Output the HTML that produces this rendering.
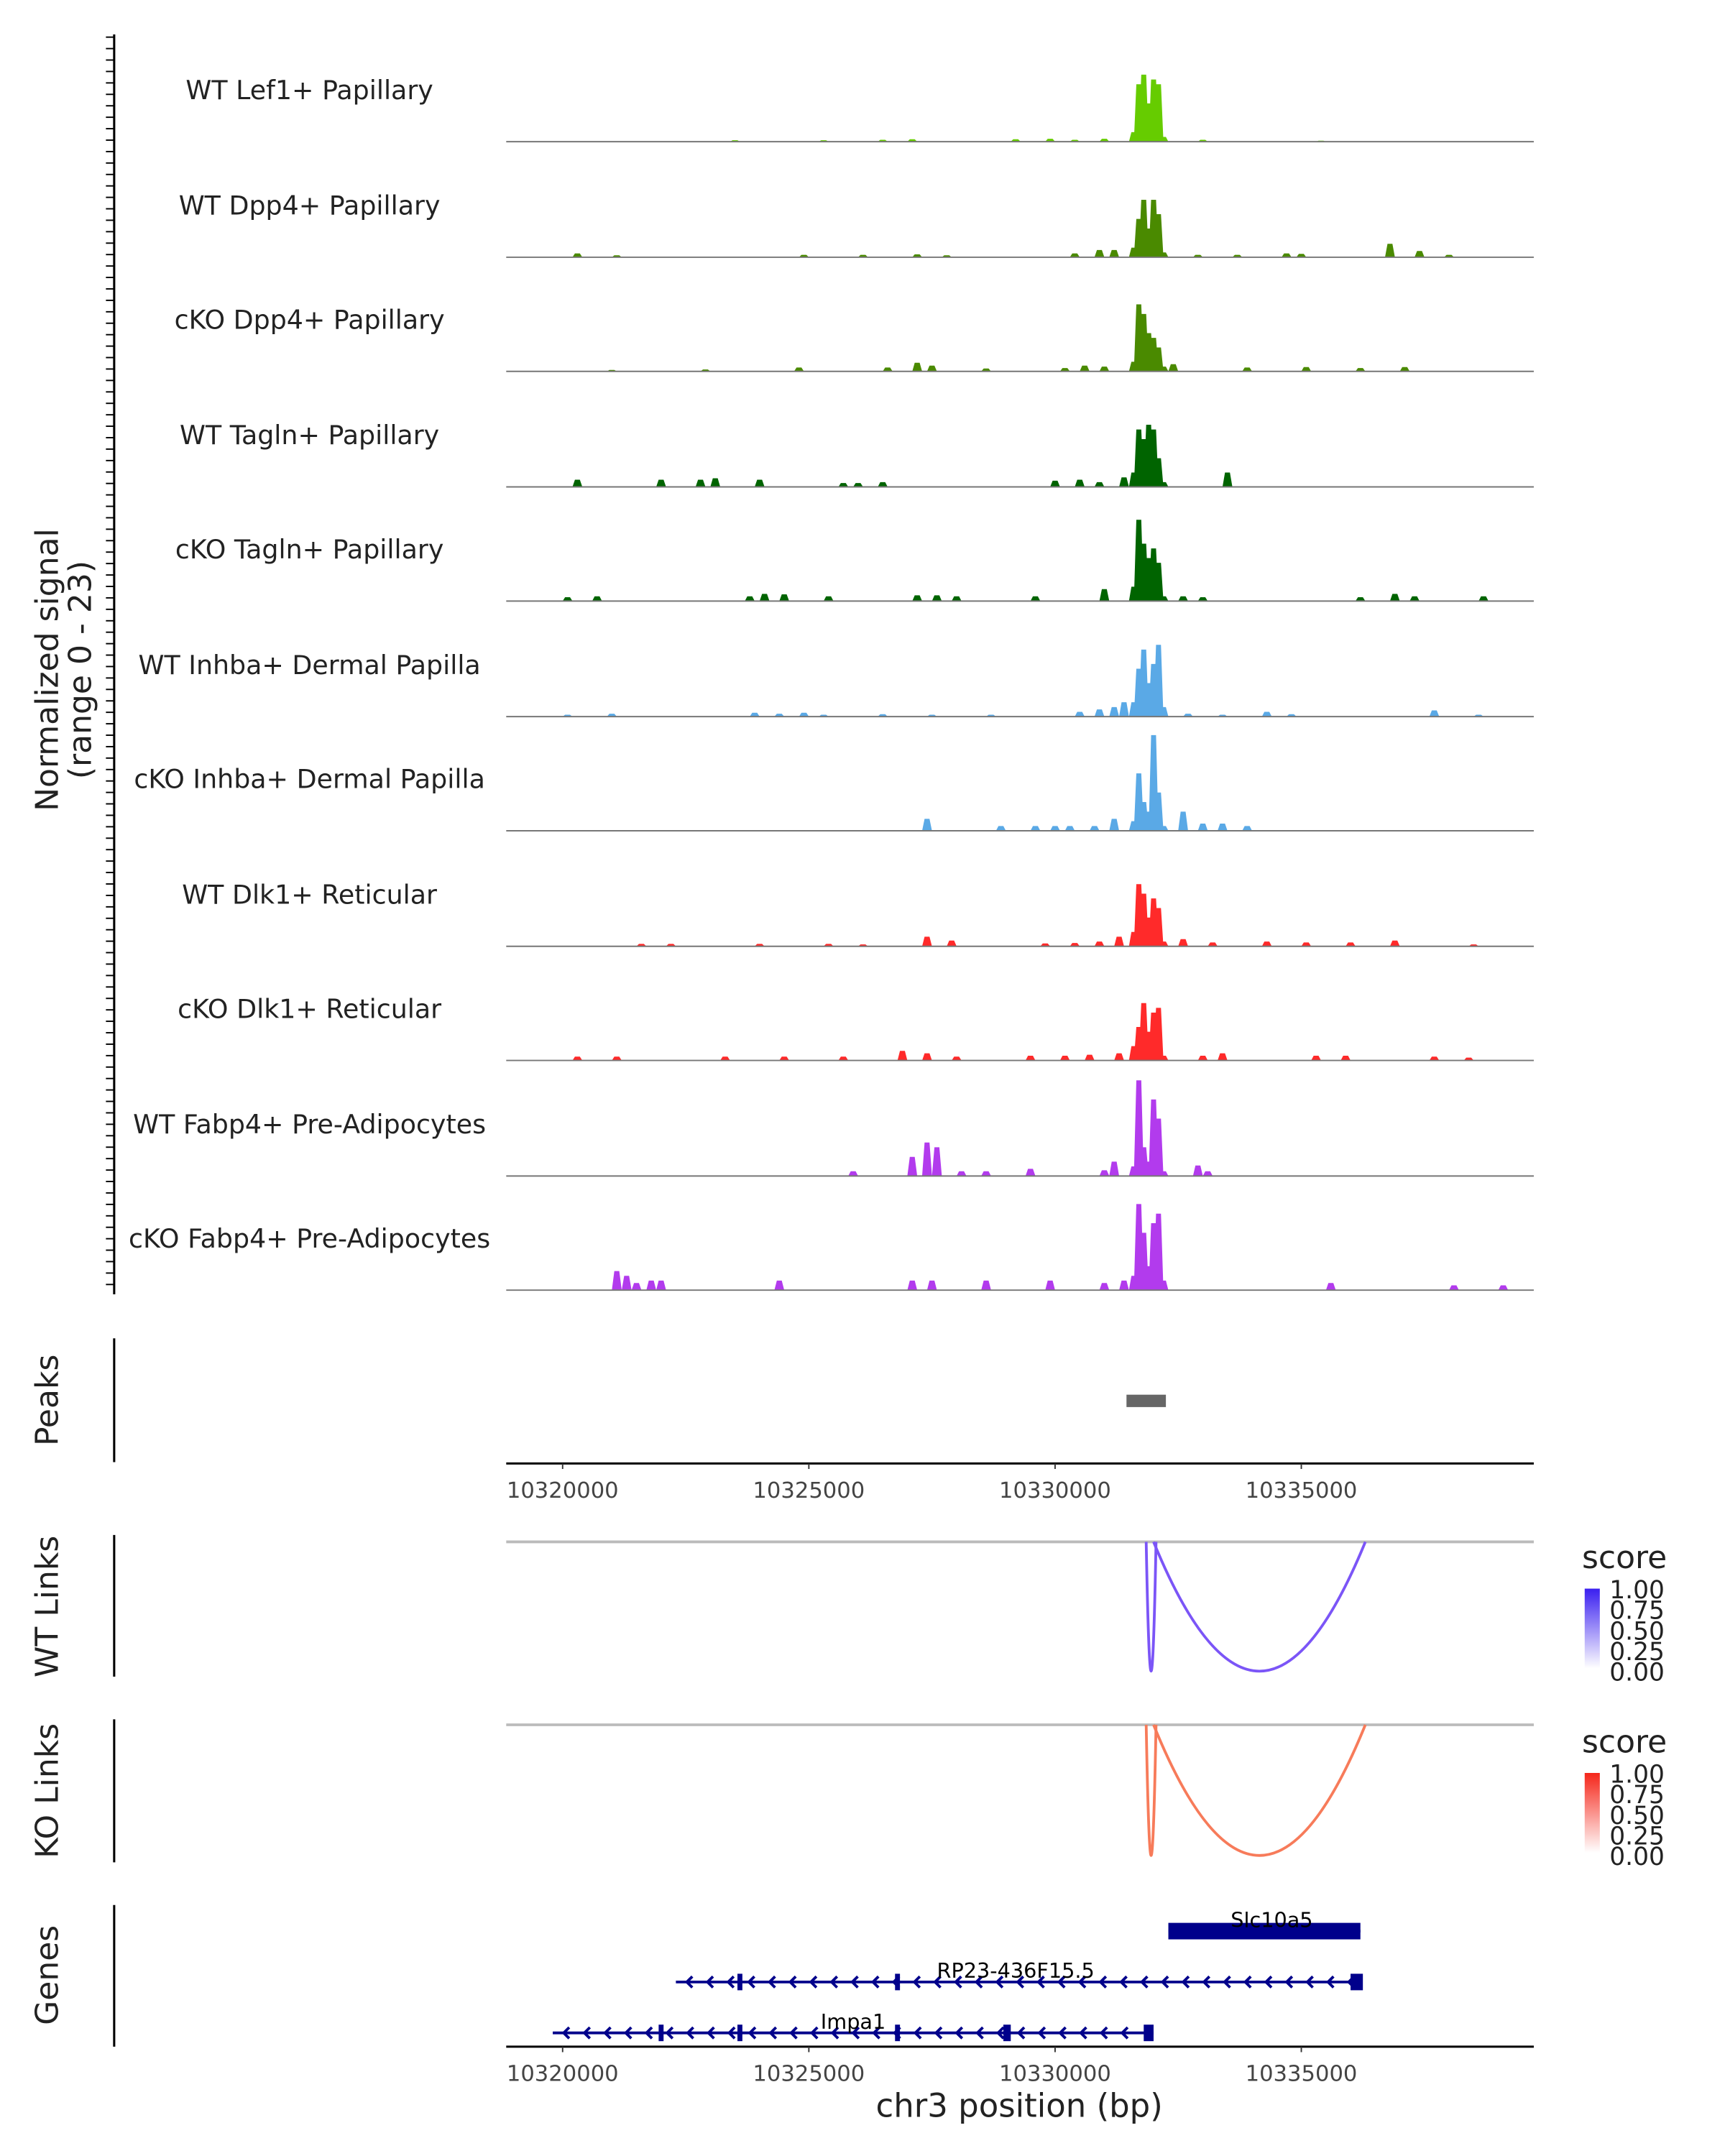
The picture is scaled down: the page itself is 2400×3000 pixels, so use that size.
<!DOCTYPE html>
<html><head><meta charset="utf-8"><style>html,body{margin:0;padding:0;background:#fff}svg{display:block}text{font-family:"DejaVu Sans","Liberation Sans",sans-serif}</style></head>
<body>
<svg id="chart" xmlns="http://www.w3.org/2000/svg" width="2400" height="3000" viewBox="0 0 1254 1567.5">
<rect width="1260" height="1570" fill="#fff"/>
<g id="tracks"></g>
<g id="axes"></g>
<g id="links"></g>
<g id="genes"></g>
<text transform="translate(42,487) rotate(-90)" text-anchor="middle" font-size="23" fill="#222">Normalized signal</text>
<text transform="translate(66,487) rotate(-90)" text-anchor="middle" font-size="23" fill="#222">(range 0 - 23)</text>
<text transform="translate(42,1018) rotate(-90)" text-anchor="middle" font-size="23" fill="#222">Peaks</text>
<text transform="translate(42,1168) rotate(-90)" text-anchor="middle" font-size="23" fill="#222">WT Links</text>
<text transform="translate(42,1302) rotate(-90)" text-anchor="middle" font-size="23" fill="#222">KO Links</text>
<text transform="translate(42,1436) rotate(-90)" text-anchor="middle" font-size="23" fill="#222">Genes</text>
<text x="741" y="1539" text-anchor="middle" font-size="23.5" fill="#222">chr3 position (bp)</text>
<defs>
<linearGradient id="gWT" x1="0" y1="1" x2="0" y2="0"><stop offset="0" stop-color="#ffffff"/><stop offset="1" stop-color="#3a1ff0"/></linearGradient>
<linearGradient id="gKO" x1="0" y1="1" x2="0" y2="0"><stop offset="0" stop-color="#ffffff"/><stop offset="1" stop-color="#f5261a"/></linearGradient>
</defs>
<g>
<text x="1150" y="1140" font-size="23" fill="#222">score</text>
<rect x="1152" y="1155" width="11" height="58" fill="url(#gWT)"/>
<g font-size="18" fill="#222"><text x="1170" y="1162">1.00</text><text x="1170" y="1177">0.75</text><text x="1170" y="1192">0.50</text><text x="1170" y="1207">0.25</text><text x="1170" y="1222">0.00</text></g>
</g>
<g>
<text x="1150" y="1274" font-size="23" fill="#222">score</text>
<rect x="1152" y="1289" width="11" height="58" fill="url(#gKO)"/>
<g font-size="18" fill="#222"><text x="1170" y="1296">1.00</text><text x="1170" y="1311">0.75</text><text x="1170" y="1326">0.50</text><text x="1170" y="1341">0.25</text><text x="1170" y="1356">0.00</text></g>
</g>
</svg>
<script>
const trackNames=["WT Lef1+ Papillary","WT Dpp4+ Papillary","cKO Dpp4+ Papillary","WT Tagln+ Papillary","cKO Tagln+ Papillary","WT Inhba+ Dermal Papilla","cKO Inhba+ Dermal Papilla","WT Dlk1+ Reticular","cKO Dlk1+ Reticular","WT Fabp4+ Pre-Adipocytes","cKO Fabp4+ Pre-Adipocytes"];
const trackColors=["#66cc00","#4a8a00","#4a8a00","#006400","#006400","#5aa9e6","#5aa9e6","#ff2a2a","#ff2a2a","#b23bed","#b23bed"];
const sigLef1=[[10323.5,0.3],[10325.3,0.3],[10326.5,0.4],[10327.1,0.5],[10329.2,0.5],[10329.9,0.6],[10330.4,0.4],[10331.0,0.6],[10331.6,2],[10331.7,12],[10331.8,14],[10331.9,8],[10332.0,13],[10332.1,12],[10332.2,1],[10333.0,0.4],[10335.4,0.2]];
const sigWTDpp4=[[10320.3,0.8],[10321.1,0.4],[10324.9,0.5],[10326.1,0.5],[10327.2,0.6],[10327.8,0.4],[10330.4,0.8],[10330.9,1.5],[10331.2,1.5],[10331.6,2],[10331.7,8],[10331.8,12],[10331.9,6],[10332.0,12],[10332.1,9],[10332.2,1],[10332.9,0.5],[10333.7,0.5],[10334.7,0.8],[10335.0,0.7],[10336.8,2.8],[10337.4,1.3],[10338.0,0.5]];
const sigKODpp4=[[10321.0,0.3],[10322.9,0.4],[10324.8,0.8],[10326.6,0.8],[10327.2,1.8],[10327.5,1.2],[10328.6,0.6],[10330.2,0.7],[10330.6,1.2],[10331.0,1],[10331.6,2],[10331.7,14],[10331.8,12],[10331.9,8],[10332.0,7],[10332.1,5],[10332.2,1],[10332.4,1.5],[10333.9,0.8],[10335.1,0.9],[10336.2,0.7],[10337.1,0.9]];
const sigWTTagln=[[10320.3,1.5],[10322.0,1.5],[10322.8,1.5],[10323.1,1.8],[10324.0,1.5],[10325.7,0.8],[10326.0,0.8],[10326.5,1],[10330.0,1.3],[10330.5,1.5],[10330.9,1],[10331.4,2],[10331.6,3],[10331.7,12],[10331.8,10],[10331.9,13],[10332.0,12],[10332.1,6],[10332.2,1],[10333.5,3]];
const sigKOTagln=[[10320.1,0.8],[10320.7,1],[10323.8,1],[10324.1,1.5],[10324.5,1.4],[10325.4,1],[10327.2,1.2],[10327.6,1.2],[10328.0,1],[10329.6,1],[10331.0,2.5],[10331.6,3],[10331.7,17],[10331.8,12],[10331.9,9],[10332.0,11],[10332.1,8],[10332.2,1],[10332.6,1],[10333.0,0.8],[10336.2,0.8],[10336.9,1.5],[10337.3,1],[10338.7,1]];
const sigWTInhba=[[10320.1,0.4],[10321.0,0.6],[10323.9,0.8],[10324.4,0.6],[10324.9,0.8],[10325.3,0.4],[10326.5,0.5],[10327.5,0.4],[10328.7,0.4],[10330.5,1],[10330.9,1.5],[10331.2,2],[10331.4,3],[10331.6,3],[10331.7,10],[10331.8,14],[10331.9,7],[10332.0,11],[10332.1,15],[10332.2,2],[10332.7,0.6],[10333.4,0.4],[10334.3,1],[10334.8,0.5],[10337.7,1.3],[10338.6,0.4]];
const sigKOInhba=[[10327.4,2.5],[10328.9,1],[10329.6,1],[10330.0,1],[10330.3,1],[10330.8,1],[10331.2,2.5],[10331.6,2],[10331.7,12],[10331.8,6],[10331.9,4],[10332.0,20],[10332.1,8],[10332.2,1],[10332.6,4],[10333.0,1.5],[10333.4,1.5],[10333.9,1]];
const sigWTDlk1=[[10321.6,0.5],[10322.2,0.5],[10324.0,0.5],[10325.4,0.5],[10326.1,0.4],[10327.4,2],[10327.9,1.2],[10329.8,0.6],[10330.4,0.7],[10330.9,1],[10331.3,2],[10331.6,3],[10331.7,13],[10331.8,11],[10331.9,6],[10332.0,10],[10332.1,8],[10332.2,1],[10332.6,1.5],[10333.2,0.8],[10334.3,1],[10335.1,0.8],[10336.0,0.8],[10336.9,1.2],[10338.5,0.4]];
const sigKODlk1=[[10320.3,0.8],[10321.1,0.8],[10323.3,0.8],[10324.5,0.8],[10325.7,0.8],[10326.9,2],[10327.4,1.5],[10328.0,0.8],[10329.5,1],[10330.2,1],[10330.7,1.2],[10331.3,1.5],[10331.6,3],[10331.7,7],[10331.8,12],[10331.9,6],[10332.0,10],[10332.1,11],[10332.2,1],[10333.0,1],[10333.4,1.5],[10335.3,1],[10335.9,1],[10337.7,0.8],[10338.4,0.6]];
const sigWTFabp4=[[10325.9,1],[10327.1,4],[10327.4,7],[10327.6,6],[10328.1,1],[10328.6,1],[10329.5,1.5],[10331.0,1.2],[10331.2,3],[10331.6,2],[10331.7,20],[10331.8,6],[10331.9,3],[10332.0,16],[10332.1,12],[10332.2,1],[10332.9,2.2],[10333.1,1]];
const sigKOFabp4=[[10321.1,4],[10321.3,3],[10321.5,1.5],[10321.8,2],[10322.0,2],[10324.4,2],[10327.1,2],[10327.5,2],[10328.6,2],[10329.9,2],[10331.0,1.5],[10331.4,2],[10331.6,3],[10331.7,18],[10331.8,12],[10331.9,5],[10332.0,14],[10332.1,16],[10332.2,2],[10335.6,1.5],[10338.1,1],[10339.1,1]];
const allSignals=[sigLef1,sigWTDpp4,sigKODpp4,sigWTTagln,sigKOTagln,sigWTInhba,sigKOInhba,sigWTDlk1,sigKODlk1,sigWTFabp4,sigKOFabp4];
const xTicks=[10320000,10325000,10330000,10335000];
const peaks=[[10331.45,10332.25]];
const wtLinks=[[10331.85,10332.05,0.7],[10332.0,10336.3,0.7]];
const koLinks=[[10331.85,10332.05,0.6],[10332.0,10336.3,0.6]];
const genes=[{name:"Slc10a5",start:10332.3,end:10336.2,row:0,exons:[[10332.3,10336.2]],label:10334.4},
{name:"RP23-436F15.5",start:10322.3,end:10336.2,row:1,exons:[[10323.55,10323.65],[10326.75,10326.85],[10336.0,10336.25]],label:10329.2},
{name:"Impa1",start:10319.8,end:10332.0,row:2,exons:[[10321.95,10322.05],[10323.55,10323.65],[10326.75,10326.85],[10328.95,10329.1],[10331.8,10332.0]],label:10325.9}];
const NS="http://www.w3.org/2000/svg";
const PL=368,PR=1115;
function xs(kb){return 409+(kb-10320)*35.8;}
function mk(tag,attrs,parent){const e=document.createElementNS(NS,tag);for(const k in attrs)e.setAttribute(k,attrs[k]);parent.appendChild(e);return e;}
const trackG=document.getElementById('tracks');
const baseY=[103,187,270,354,437,521,604,688,771,855,938];
const unit=80/23;
for(let i=0;i<trackNames.length;i++){
  const g=mk('g',{},trackG);
  
  
  const b=baseY[i];
  const t=mk('text',{x:225,y:b-31,'text-anchor':'middle','font-size':'19',fill:'#222'},g);
  t.textContent=trackNames[i];
  
  
  const s=allSignals[i];
  let d='';
  for(const [p,v] of s){const x1=xs(p-0.05),x2=xs(p+0.05),h=v*unit;
    d+=`M${xs(p-0.1)},${b}L${x1},${b-h}L${x2},${b-h}L${xs(p+0.1)},${b}Z`;}
  const pa=mk('path',{d:d,fill:trackColors[i]},g);
  
  
  const ln=mk('line',{x1:PL,x2:PR,y1:b,y2:b,stroke:'#777','stroke-width':1},g);
  
  
}
const ax=document.getElementById('axes');
function vline(x,y1,y2,name){const l=mk('line',{x1:x,x2:x,y1:y1,y2:y2,stroke:'#000','stroke-width':1.6},ax);}
vline(83,25,941,'signal-y-axis');
for(let y=27;y<=941;y+=8.32){mk('line',{x1:77,x2:83,y1:y,y2:y,stroke:'#000','stroke-width':1},ax);}
vline(83,973,1063,'peaks-y-axis');vline(83,1116,1219,'wt-links-y-axis');vline(83,1250,1354,'ko-links-y-axis');vline(83,1385,1488,'genes-y-axis');
for(const [a,bb] of peaks){const r=mk('rect',{x:xs(a),y:1014,width:xs(bb)-xs(a),height:9,fill:'#666'},ax);}
function xaxis(y,name){const l=mk('line',{x1:PL,x2:PR,y1:y,y2:y,stroke:'#000','stroke-width':1.6},ax);
  for(const t of xTicks){const x=xs(t/1000);mk('line',{x1:x,x2:x,y1:y,y2:y+4,stroke:'#333'},ax);const tx=mk('text',{x:x,y:y+25,'text-anchor':'middle','font-size':'16',fill:'#444'},ax);tx.textContent=t;}}
xaxis(1064,'peaks-x-axis');xaxis(1488,'genes-x-axis');
const lg=document.getElementById('links');
function drawLinks(arr,top,bot,col,name){
  mk('line',{x1:PL,x2:PR,y1:top,y2:top,stroke:'#bbb','stroke-width':2},lg);
  for(const [a,b2] of arr){const x1=xs(a),x2=xs(b2),cy=top+2*(bot-top);
    const p=mk('path',{d:`M${x1},${top}Q${(x1+x2)/2},${cy} ${x2},${top}`,fill:'none',stroke:col,'stroke-width':2},lg);
    }
}
drawLinks(wtLinks,1121,1215,'#7b55f7','wt-link-arc');
drawLinks(koLinks,1254,1349,'#f77b5a','ko-link-arc');
const gg=document.getElementById('genes');
const rowY=[1404,1441,1478];
for(const ge of genes){const y=rowY[ge.row];const g=mk('g',{},gg);
  
  
  mk('line',{x1:xs(ge.start),x2:xs(ge.end),y1:y,y2:y,stroke:'#00008b','stroke-width':2},g);
  if(ge.row>0){for(let k=ge.start+0.25;k<ge.end-0.2;k+=0.42){const x=xs(k);mk('path',{d:`M${x+3},${y-4}L${x-1},${y}L${x+3},${y+4}`,fill:'none',stroke:'#00008b','stroke-width':2},g);}}
  for(const [a,b2] of ge.exons){mk('rect',{x:xs(a),y:y-6,width:Math.max(2.5,xs(b2)-xs(a)),height:12,fill:'#00008b'},g);}
  const t=mk('text',{x:xs(ge.label),y:y-3,'text-anchor':'middle','font-size':'15',fill:'#000'},g);t.textContent=ge.name;
}
</script>
</body></html>
